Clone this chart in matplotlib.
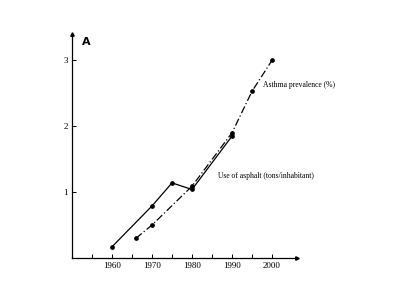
import matplotlib
matplotlib.use("Agg")
import matplotlib.pyplot as plt

asphalt_years = [1960, 1970, 1975, 1980, 1990]
asphalt_values = [0.17, 0.79, 1.14, 1.04, 1.85]
asthma_years = [1966, 1970, 1980, 1990, 1995, 2000]
asthma_values = [0.30, 0.50, 1.09, 1.90, 2.53, 3.00]
x_ticks = [1960, 1970, 1980, 1990, 2000]
x_minor = [1955, 1965, 1975, 1985, 1995]
y_ticks = [1, 2, 3]

fig = plt.figure(figsize=(4, 3), dpi=100)
ax = fig.add_axes([0.18, 0.14, 0.5625, 0.7467])
ax.plot(asphalt_years, asphalt_values, color="black", lw=0.9, marker="o", ms=2.4)
ax.plot(asthma_years, asthma_values, color="black", lw=0.9, marker="o", ms=2.4,
        linestyle=(0, (6, 2, 1, 2)))
ax.set_xlim(1950, 2006.25)
ax.set_ylim(0, 3.4)
for s in ["top", "right"]:
    ax.spines[s].set_visible(False)
for s in ["left", "bottom"]:
    ax.spines[s].set_linewidth(0.9)
ax.set_xticks(x_ticks)
ax.set_xticks(x_minor, minor=True)
ax.set_yticks(y_ticks)
ax.tick_params(axis="both", which="both", direction="in", length=3, width=0.7,
               labelsize=6.5, pad=3)
for lab in ax.get_xticklabels() + ax.get_yticklabels():
    lab.set_family("Liberation Serif")
ax.plot(1, 0, ">k", transform=ax.transAxes, clip_on=False, ms=2.5)
ax.plot(0, 1, "^k", transform=ax.transAxes, clip_on=False, ms=2.5)
ax.text(1997.75, 2.62, "Asthma prevalence (%)", fontsize=5.5, family="Liberation Serif",
        va="center", ha="left")
ax.text(1986.5, 1.24, "Use of asphalt (tons/inhabitant)", fontsize=5.5,
        family="Liberation Serif", va="center", ha="left")
fig.text(82 / 400, 1 - 42 / 300, "A", fontsize=8, fontweight="bold", va="center", ha="left")
fig.savefig("out.png", dpi=100)
